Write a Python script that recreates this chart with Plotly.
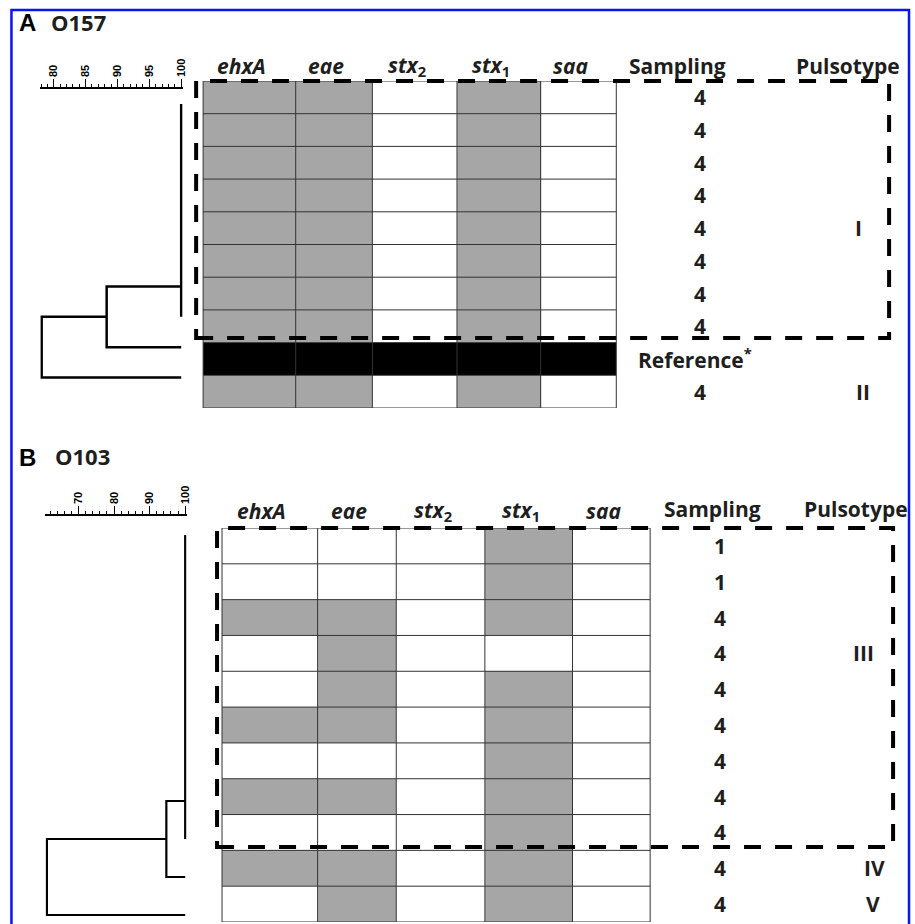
import plotly.graph_objects as go

W, H = 915, 924

# ---------------- data ----------------
gene_labels = ["<i>ehxA</i>", "<i>eae</i>", "<i>stx</i><sub>2</sub>", "<i>stx</i><sub>1</sub>", "<i>saa</i>"]

# 0 = absent (white), 1 = present (grey), 2 = reference strain (black)
A_profiles = [
    [1, 1, 0, 1, 0],
    [1, 1, 0, 1, 0],
    [1, 1, 0, 1, 0],
    [1, 1, 0, 1, 0],
    [1, 1, 0, 1, 0],
    [1, 1, 0, 1, 0],
    [1, 1, 0, 1, 0],
    [1, 1, 0, 1, 0],
    [2, 2, 2, 2, 2],
    [1, 1, 0, 1, 0],
]
A_sampling = ["4", "4", "4", "4", "4", "4", "4", "4", "Reference<sup>*</sup>", "4"]
A_pulsotype = ["", "", "", "", "I", "", "", "", "", "II"]

B_profiles = [
    [0, 0, 0, 1, 0],
    [0, 0, 0, 1, 0],
    [1, 1, 0, 1, 0],
    [0, 1, 0, 0, 0],
    [0, 1, 0, 1, 0],
    [1, 1, 0, 1, 0],
    [0, 0, 0, 1, 0],
    [1, 1, 0, 1, 0],
    [0, 0, 0, 1, 0],
    [1, 1, 0, 1, 0],
    [0, 1, 0, 1, 0],
]
B_sampling = ["1", "1", "4", "4", "4", "4", "4", "4", "4", "4", "4"]
B_pulsotype = ["", "", "", "III", "", "", "", "", "", "IV", "V"]

# dendrograms: similarity (%) and leaf positions of each link
A_dend_sim = [[100, 100], [100, 88.3, 88.3, 100], [88.3, 78.1, 78.1, 100]]
A_dend_leaf = [[0, 7], [6, 6, 8, 8], [7, 7, 9, 9]]
A_scale_ticks = [80, 85, 90, 95, 100]

B_dend_sim = [[100, 100], [100, 94.7, 94.7, 100], [94.7, 61.1, 61.1, 100]]
B_dend_leaf = [[0, 8], [7, 7, 9, 9], [8, 8, 10, 10]]
B_scale_ticks = [70, 80, 90, 100]

# ---------------- layout helpers ----------------
def fx(p):
    return p / W

def fy(p):
    return 1 - p / H

FONT = "'Open Sans', Lato, sans-serif"
TXT = "#1e1e1e"
GREY = "#a6a6a6"

fig = go.Figure()
shapes = []
annotations = []

colorscale = [[0, "white"], [0.5, GREY], [1, "black"]]


def ptext(txt, x, y, font, xanchor="center"):
    annotations.append(dict(text=txt, xref="paper", yref="paper", x=fx(x), y=fy(y),
                            xanchor=xanchor, yanchor="middle", showarrow=False, font=font))


def grid_panel(profiles, col_edges, top_px, bot_px, xa, ya, sampling, samp_x, puls, puls_x,
               header_px):
    n = len(profiles)
    fig.add_trace(go.Heatmap(
        z=profiles, x=col_edges, y=list(range(n + 1)),
        zmin=0, zmax=2, colorscale=colorscale, showscale=False,
        xaxis=xa, yaxis=ya, hoverinfo="skip"))
    ya_name = "yaxis" if ya == "y" else "yaxis" + ya[1:]
    xa_name = "xaxis" if xa == "x" else "xaxis" + xa[1:]
    fig.layout[xa_name] = dict(domain=[0, 1], range=[0, W], visible=False, anchor=ya, fixedrange=True)
    fig.layout[ya_name] = dict(domain=[fy(bot_px), fy(top_px)], range=[n, 0], visible=False,
                               anchor=xa, fixedrange=True)
    line = dict(color="#333333", width=1)
    for e in col_edges:
        shapes.append(dict(type="line", xref=xa, yref=ya, x0=e, x1=e, y0=0, y1=n, line=line))
    for r in range(n + 1):
        shapes.append(dict(type="line", xref=xa, yref=ya, x0=col_edges[0], x1=col_edges[-1],
                           y0=r, y1=r, line=line))
    for j, g in enumerate(gene_labels):
        cx = (col_edges[j] + col_edges[j + 1]) / 2 - 8
        ptext("<b>" + g + "</b>", cx, header_px, dict(family=FONT, size=21, color=TXT))
    for i, s in enumerate(sampling):
        annotations.append(dict(text="<b>" + s + "</b>", xref=xa, yref=ya, x=samp_x[i], y=i + 0.5,
                                xanchor="center", yanchor="middle",
                                showarrow=False, font=dict(family=FONT, size=21, color=TXT)))
    for i, s in enumerate(puls):
        if s:
            annotations.append(dict(text="<b>" + s + "</b>", xref=xa, yref=ya, x=puls_x[i], y=i + 0.5,
                                    xanchor="center", yanchor="middle",
                                    showarrow=False, font=dict(family=FONT, size=21, color=TXT)))


def dendro_panel(sims, leaves, ticks, minor_dtick, px100, ppu, px_left, line_px, leaf0_px,
                 leaf_step, bot_px, xa, ya, lw):
    for sx, ly in zip(sims, leaves):
        fig.add_trace(go.Scatter(x=sx, y=ly, mode="lines", xaxis=xa, yaxis=ya,
                                 line=dict(color="black", width=lw), showlegend=False,
                                 hoverinfo="skip"))
    xa_name = "xaxis" + xa[1:]
    ya_name = "yaxis" + ya[1:]
    pad = 1.5
    lo = 100 - (px100 - px_left) / ppu
    hi = 100 + pad / ppu
    fig.layout[xa_name] = dict(
        domain=[fx(px_left), fx(px100 + pad)], range=[lo, hi], anchor=ya, side="top",
        showline=True, linecolor="black", linewidth=1.5, showgrid=False, zeroline=False,
        ticks="outside", ticklen=8, tickwidth=1.4, tickcolor="black",
        tickmode="array", tickvals=ticks, ticktext=[str(t) for t in ticks],
        tickangle=-90, tickfont=dict(family="Liberation Sans", size=11, color="black", weight="bold"),
        minor=dict(ticks="outside", ticklen=3.5, tickwidth=1, tickcolor="black",
                   dtick=minor_dtick, tick0=ticks[0], showgrid=False),
        fixedrange=True)
    fig.layout[ya_name] = dict(
        domain=[fy(bot_px), fy(line_px)],
        range=[(bot_px - leaf0_px) / leaf_step, (line_px - leaf0_px) / leaf_step],
        visible=False, anchor=xa, fixedrange=True)


# ---------- Panel A ----------
A_cols = [204, 297, 374, 459, 543, 619]
grid_panel(A_profiles, A_cols, 81, 408, "x", "y", A_sampling,
           [703] * 8 + [698] + [703], A_pulsotype, [862] * 9 + [867], 66)
dendro_panel(A_dend_sim, A_dend_leaf, A_scale_ticks, 1, 182, 6.4, 40.5, 89, 104, 30.4, 395,
             "x2", "y2", 2.5)

# ---------- Panel B ----------
B_cols = [223, 319, 398, 487, 575, 653]
grid_panel(B_profiles, B_cols, 528, 922, "x3", "y3", B_sampling,
           [723] * 11, B_pulsotype, [867] * 9 + [878, 877], 511)
dendro_panel(B_dend_sim, B_dend_leaf, B_scale_ticks, 2, 186, 3.57, 45.5, 516, 535, 38, 924,
             "x4", "y4", 2.2)

# ---------- column headers & panel titles ----------
hdr = dict(family=FONT, size=21, color=TXT)
for txt, x, y in [("Sampling", 680, 66), ("Pulsotype", 852, 66),
                  ("Sampling", 716, 509), ("Pulsotype", 860, 509)]:
    ptext("<b>" + txt + "</b>", x, y, hdr)
for txt, x, y in [("A", 17, 22), ("B", 17, 457)]:
    ptext("<b>" + txt + "</b>", x, y, dict(family="Liberation Sans", size=24, color="black"),
          xanchor="left")
for txt, x, y in [("O157", 49, 22), ("O103", 53, 456)]:
    ptext("<b>" + txt + "</b>", x, y, dict(family=FONT, size=22, color=TXT), xanchor="left")

# ---------- dashed boxes ----------
dash = dict(color="black", width=4, dash="17px,14px")
shapes.append(dict(type="rect", xref="paper", yref="paper", x0=fx(197), x1=fx(893),
                   y0=fy(338), y1=fy(81), line=dash, layer="above"))
shapes.append(dict(type="rect", xref="paper", yref="paper", x0=fx(218), x1=fx(897),
                   y0=fy(847), y1=fy(528), line=dash, layer="above"))

# ---------- blue frame ----------
shapes.append(dict(type="rect", xref="paper", yref="paper", x0=fx(11.5), x1=fx(913),
                   y0=fy(940), y1=fy(10), line=dict(color="#0a14f0", width=2.5), layer="above"))

fig.update_layout(
    width=W, height=H, margin=dict(l=0, r=0, t=0, b=0),
    paper_bgcolor="white", plot_bgcolor="rgba(0,0,0,0)",
    shapes=shapes, annotations=annotations, showlegend=False,
)

fig.write_html("out.html", config={"displayModeBar": False},
               post_script="document.body.style.margin='0';document.body.style.overflow='hidden';")
